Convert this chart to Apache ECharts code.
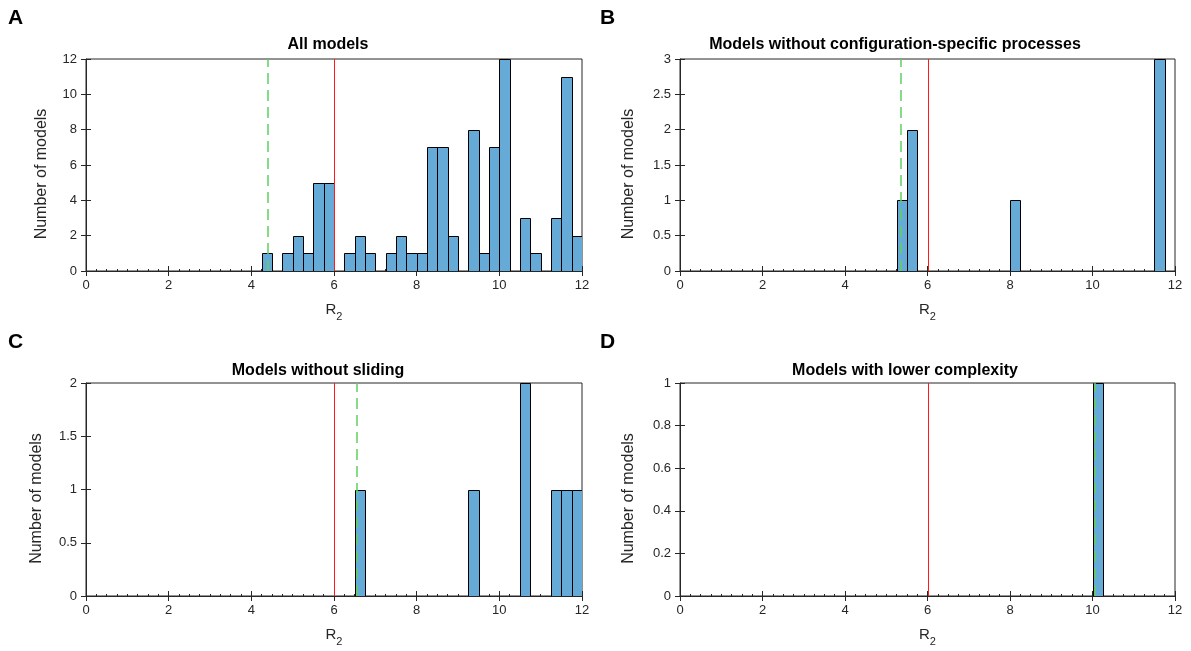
<!DOCTYPE html>
<html>
<head>
<meta charset="utf-8">
<title>R2 histograms</title>
<script src="https://cdn.jsdelivr.net/npm/echarts@6/dist/echarts.min.js"></script>
<style>
  html, body { margin: 0; padding: 0; background: #ffffff; }
  #chart { width: 1191px; height: 651px; }
</style>
</head>
<body>
<div id="chart"></div>
<script>
// Histogram bins: 48 bins of width 0.25 covering R2 = 0..12
const binStart = 0;
const binWidth = 0.25;

// Counts per bin for each model group
const countsA = [0,0,0,0,0,0,0,0, 0,0,0,0,0,0,0,0, 0,1,0,1,2,1,5,5, 0,1,2,1,0,1,2,1, 1,7,7,2,0,8,1,7, 12,0,3,1,0,3,11,2];
const countsB = [0,0,0,0,0,0,0,0, 0,0,0,0,0,0,0,0, 0,0,0,0,0,1,2,0, 0,0,0,0,0,0,0,0, 1,0,0,0,0,0,0,0, 0,0,0,0,0,0,3,0];
const countsC = [0,0,0,0,0,0,0,0, 0,0,0,0,0,0,0,0, 0,0,0,0,0,0,0,0, 0,0,1,0,0,0,0,0, 0,0,0,0,0,1,0,0, 0,0,2,0,0,1,1,1];
const countsD = [0,0,0,0,0,0,0,0, 0,0,0,0,0,0,0,0, 0,0,0,0,0,0,0,0, 0,0,0,0,0,0,0,0, 0,0,0,0,0,0,0,0, 1,0,0,0,0,0,0,0];

// Reference threshold (red) and group value (green dashed)
const thresholdR2 = 6;
const groupR2 = [4.4, 5.35, 6.56, 10.07];

const panelTitles = [
  'All models',
  'Models without configuration-specific processes',
  'Models without sliding',
  'Models with lower complexity'
];
const panelLetters = ['A', 'B', 'C', 'D'];
const yMax = [12, 3, 2, 1];
const yStep = [2, 0.5, 0.5, 0.2];
const xMin = 0, xMax = 12, xStep = 2;

const allCounts = [countsA, countsB, countsC, countsD];

// Layout of the four plot boxes (pixels) and their title anchors
const boxes = [
  { left: 86,  top: 59,  width: 496, height: 212, nameGap: 36, titleX: 328, titleY: 45 },
  { left: 680, top: 59,  width: 495, height: 212, nameGap: 43, titleX: 895, titleY: 45 },
  { left: 86,  top: 383, width: 496, height: 213, nameGap: 41, titleX: 318, titleY: 371 },
  { left: 680, top: 383, width: 495, height: 213, nameGap: 43, titleX: 905, titleY: 371 }
];

const FONT = '"Liberation Sans", Arial, Helvetica, sans-serif';
const AXIS_COLOR = '#262626';
const BAR_FILL = '#66aad7';
const RED = '#ff1a1a';
const GREEN = '#5fd15f';

function toBins(counts) {
  return counts.map((c, i) => [binStart + i * binWidth, binStart + (i + 1) * binWidth, c])
               .filter(d => d[2] > 0);
}

function renderBar(params, api) {
  const p0 = api.coord([api.value(0), 0]);
  const p1 = api.coord([api.value(1), api.value(2)]);
  const x0 = Math.round(p0[0]) + 0.5;
  const x1 = Math.round(p1[0]) + 0.5;
  const yb = Math.round(p0[1]) + 0.5;
  const yt = Math.round(p1[1]) + 0.5;
  return {
    type: 'rect',
    shape: { x: x0, y: yt, width: x1 - x0, height: yb - yt },
    style: { fill: BAR_FILL, stroke: '#000000', lineWidth: 1 }
  };
}

// Vertical reference line spanning the whole y range
function makeVLine(color, width, dash) {
  return function (params, api) {
    const p0 = api.coord([api.value(0), api.value(1)]);
    const p1 = api.coord([api.value(0), api.value(2)]);
    const x = Math.round(p0[0]) + (width % 2 === 1 ? 0.5 : 0);
    return {
      type: 'line',
      shape: { x1: x, y1: p0[1], x2: x, y2: p1[1] },
      style: { stroke: color, lineWidth: width, lineDash: dash || null, fill: null }
    };
  };
}

const grids = [], xAxes = [], yAxes = [], series = [], graphics = [];

boxes.forEach((b, k) => {
  grids.push({
    left: b.left, top: b.top, width: b.width, height: b.height,
    show: true, borderColor: AXIS_COLOR, borderWidth: 1, backgroundColor: '#ffffff'
  });
  const tickStyle = { show: true, inside: true, length: 5, lineStyle: { color: AXIS_COLOR, width: 1 } };
  // bottom x axis
  xAxes.push({
    type: 'value', gridIndex: k, min: xMin, max: xMax, interval: xStep, position: 'bottom',
    axisLine: { show: true, onZero: false, lineStyle: { color: AXIS_COLOR, width: 1 } },
    axisTick: tickStyle,
    minorTick: { show: true, splitNumber: 8, length: 2, lineStyle: { color: AXIS_COLOR, width: 1 } },
    splitLine: { show: false },
    axisLabel: { color: AXIS_COLOR, fontSize: 13, fontFamily: FONT, margin: 8 },
    name: '{r|R}{s|2}',
    nameLocation: 'middle', nameGap: 30,
    nameTextStyle: {
      rich: {
        r: { fontSize: 15, fontFamily: FONT, color: AXIS_COLOR, lineHeight: 18 },
        s: { fontSize: 11, fontFamily: FONT, color: AXIS_COLOR, padding: [13, 0, 0, 0], lineHeight: 18 }
      }
    }
  });
  // top x axis (mirrored ticks only)
  xAxes.push({
    type: 'value', gridIndex: k, min: xMin, max: xMax, interval: xStep, position: 'top',
    axisLine: { show: false }, axisTick: tickStyle, axisLabel: { show: false }, splitLine: { show: false }
  });
  // left y axis
  yAxes.push({
    type: 'value', gridIndex: k, min: 0, max: yMax[k], interval: yStep[k], position: 'left',
    axisLine: { show: true, lineStyle: { color: AXIS_COLOR, width: 1 } },
    axisTick: tickStyle,
    splitLine: { show: false },
    axisLabel: { color: AXIS_COLOR, fontSize: 13, fontFamily: FONT, margin: 9 },
    name: 'Number of models',
    nameLocation: 'middle', nameGap: b.nameGap,
    nameTextStyle: { color: AXIS_COLOR, fontSize: 16, fontFamily: FONT, padding: [0, 18, 0, 0] }
  });
  // right y axis (mirrored ticks only)
  yAxes.push({
    type: 'value', gridIndex: k, min: 0, max: yMax[k], interval: yStep[k], position: 'right',
    axisLine: { show: false }, axisTick: tickStyle, axisLabel: { show: false }, splitLine: { show: false }
  });

  const xi = 2 * k, yi = 2 * k;
  series.push({
    type: 'custom', xAxisIndex: xi, yAxisIndex: yi,
    renderItem: renderBar, data: toBins(allCounts[k]), z: 2, silent: true, clip: true
  });
  series.push({
    type: 'custom', xAxisIndex: xi, yAxisIndex: yi, z: 4, silent: true,
    renderItem: makeVLine(RED, 1, null),
    data: [[thresholdR2, 0, yMax[k]]]
  });
  series.push({
    type: 'custom', xAxisIndex: xi, yAxisIndex: yi, z: 5, silent: true,
    renderItem: makeVLine(GREEN, 1.5, [11, 6]),
    data: [[groupR2[k], 0, yMax[k]]]
  });

  // panel title
  graphics.push({
    type: 'text', x: b.titleX, y: b.titleY, z: 10,
    style: { text: panelTitles[k], fill: '#000000', font: 'bold 16px ' + FONT,
             textAlign: 'center', textVerticalAlign: 'middle' }
  });
});

// panel letters
[[8, 18], [600, 18], [8, 342], [600, 342]].forEach((p, k) => {
  graphics.push({
    type: 'text', x: p[0], y: p[1], z: 10,
    style: { text: panelLetters[k], fill: '#000000', font: 'bold 21px ' + FONT,
             textAlign: 'left', textVerticalAlign: 'middle' }
  });
});

const chart = echarts.init(document.getElementById('chart'), null, { renderer: 'canvas' });
chart.setOption({
  animation: false,
  backgroundColor: '#ffffff',
  grid: grids,
  xAxis: xAxes,
  yAxis: yAxes,
  series: series,
  graphic: graphics
});
</script>
</body>
</html>
